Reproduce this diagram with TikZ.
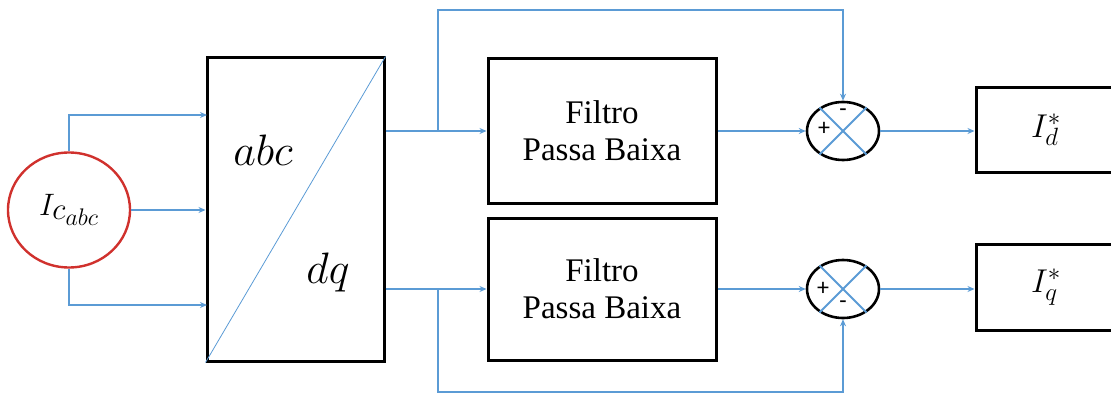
\RequirePackage{fix-cm}
\documentclass[tikz,border=0pt]{standalone}
\usepackage{fontspec}
\setmainfont{Liberation Serif}
\newfontfamily\signfont{Carlito}
\usepackage{tikz}
\usetikzlibrary{shapes.geometric,arrows.meta,positioning,calc}
\definecolor{wireblue}{HTML}{5B9BD5}
\definecolor{srcred}{HTML}{D0312D}
% larger scripts for the big labels
\DeclareMathSizes{33}{33}{25}{19}
\DeclareMathSizes{31}{31}{24}{18}

\begin{document}
\begin{tikzpicture}[x=1pt,y=-1pt,
  blk/.style={draw,line width=3pt,inner sep=0pt},
  wire/.style={wireblue,line width=2pt},
  arr/.style={wire,-{Stealth[length=7pt,width=6pt]}},
  sum/.style={ellipse,draw,line width=2.6pt,minimum width=72pt,
              minimum height=58pt,inner sep=0pt},
  sgn/.style={font=\signfont\fontsize{24}{24}\selectfont,inner sep=0pt},
  mth/.style={font=\fontsize{33}{33}\selectfont}]

\useasboundingbox (0,0) rectangle (1111,401);

% source and abc -> dq transform
\node[ellipse,draw=srcred,line width=2.4pt,minimum width=122pt,
      minimum height=115pt,font=\fontsize{31}{31}\selectfont] (ic) at (69,210)
      {$I_{\textstyle c_{\scriptstyle abc}}$};
\node[blk,minimum width=177pt,minimum height=303pt] (park) at (295.5,209.5) {};
\draw[wireblue,line width=0.8pt] (park.south west) -- (park.north east);
\node[font=\fontsize{44}{44}\selectfont] (pabc) at (263,150) {$abc$};
\node[font=\fontsize{44}{44}\selectfont] (pdq)  at (328,272) {$dq$};

% low-pass filters
\node[blk,minimum width=228pt,minimum height=144pt,align=center,
      font=\fontsize{33}{37}\selectfont] (lpf1) at (602,131) {Filtro\\Passa Baixa};
\node[blk,minimum width=228pt,minimum height=142pt,align=center,
      font=\fontsize{33}{37}\selectfont] (lpf2) at (602,289) {Filtro\\Passa Baixa};

% summing junctions
\node[sum] (s1) at (843,131) {};
\node[sum] (s2) at (843,289) {};
\foreach \s in {s1,s2} {
  \draw[wire] (\s.45) -- (\s.225);
  \draw[wire] (\s.135) -- (\s.315);
}
\node[sgn] (p1) at (824,129) {+};
\node[sgn] (m1) at (843,113) {-};
\node[sgn] (p2) at (823,289) {+};
\node[sgn] (m2) at (843,305) {-};

% outputs
\node[blk,minimum width=160pt,minimum height=85pt] (id) at (1056,130) {};
\node[blk,minimum width=160pt,minimum height=86pt] (iq) at (1056,287) {};
\node[mth] (idl) at (1046,130) {$I_d^*$};
\node[mth] (iql) at (1046,287) {$I_q^*$};

% connectors
\coordinate (ina) at (207,115);
\coordinate (inc) at (207,305);
\draw[arr] (ic.north) |- (ina);
\draw[arr] (ic.east) -- (ic.east -| park.west);
\draw[arr] (ic.south) |- (inc);

\draw[arr] (park.east |- lpf1.west) -- (lpf1.west);
\draw[arr] (park.east |- lpf2.west) -- (lpf2.west);
\coordinate (bd) at ($(park.east |- lpf1.west)!0.52!(lpf1.west)$);
\coordinate (bq) at ($(park.east |- lpf2.west)!0.52!(lpf2.west)$);
\draw[arr] (bd) -- ++(0,-121) -| (s1.north);
\draw[arr] (bq) -- ++(0,103) -| (s2.south);

\draw[arr] (lpf1.east) -- (s1.west);
\draw[arr] (lpf2.east) -- (s2.west);
\draw[arr] (s1.east) -- (s1.east -| id.west);
\draw[arr] (s2.east) -- (s2.east -| iq.west);
\end{tikzpicture}
\end{document}
